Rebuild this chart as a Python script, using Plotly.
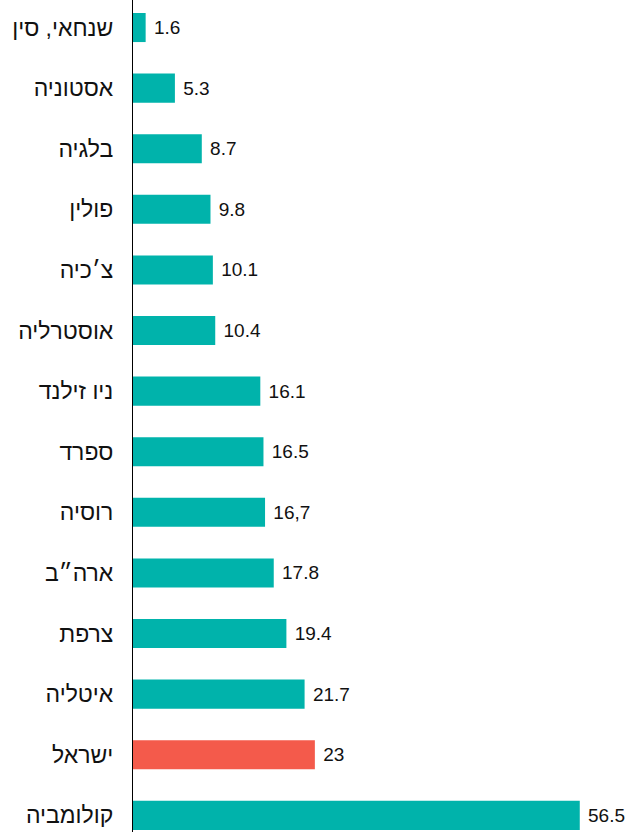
import plotly.graph_objects as go

countries = ["שנחאי, סין", "אסטוניה", "בלגיה", "פולין", "צ׳כיה", "אוסטרליה",
             "ניו זילנד", "ספרד", "רוסיה", "ארה״ב", "צרפת", "איטליה", "ישראל", "קולומביה"]
values = [1.6, 5.3, 8.7, 9.8, 10.1, 10.4, 16.1, 16.5, 16.7, 17.8, 19.4, 21.7, 23, 56.5]
value_labels = ["1.6", "5.3", "8.7", "9.8", "10.1", "10.4", "16.1", "16.5", "16,7",
                "17.8", "19.4", "21.7", "23", "56.5"]
highlight = "ישראל"

colors = ["#f45a4b" if c == highlight else "#00b3ab" for c in countries]

fig = go.Figure(go.Bar(
    x=values, y=countries, orientation="h",
    marker=dict(color=colors, line=dict(width=0)),
    width=0.48,
    text=value_labels, texttemplate="\u00a0%{text}", textposition="outside", cliponaxis=False,
    textfont=dict(family="Liberation Sans, Arial, sans-serif", size=19, color="#111"),
))

fig.update_layout(
    width=628, height=832,
    margin=dict(l=133, r=0, t=0, b=0),
    plot_bgcolor="white", paper_bgcolor="white",
    showlegend=False,
    xaxis=dict(range=[0, 62.6], showgrid=False, zeroline=False, showticklabels=False,
               showline=False, ticks=""),
    yaxis=dict(range=[13.275, -0.454], autorange=False, showgrid=False, zeroline=False,
               showline=True, linecolor="#000", linewidth=1.2, ticks="",
               ticklabelstandoff=14,
               tickfont=dict(family="Liberation Sans, Arial, sans-serif", size=23, color="#111")),
)

fig.write_html("out.html",
               config={"displayModeBar": False},
               post_script="document.body.style.margin='0';document.body.style.overflow='hidden';")
